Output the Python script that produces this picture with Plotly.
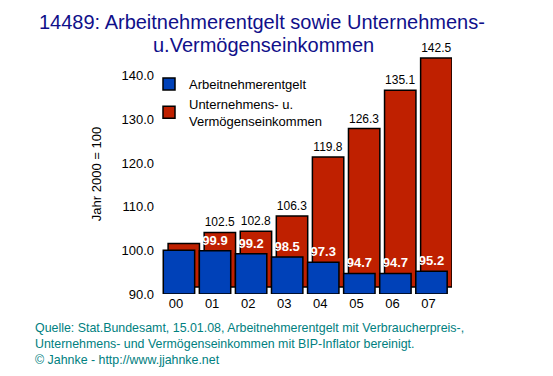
import plotly.graph_objects as go

years = ["00", "01", "02", "03", "04", "05", "06", "07"]
arbeit = [100.0, 99.9, 99.2, 98.5, 97.3, 94.7, 94.7, 95.2]
unternehmen = [100.0, 102.5, 102.8, 106.3, 119.8, 126.3, 135.1, 142.5]
arbeit_labels = ["", "99.9", "99.2", "98.5", "97.3", "94.7", "94.7", "95.2"]
unternehmen_labels = ["", "102.5", "102.8", "106.3", "119.8", "126.3", "135.1", "142.5"]
yticks = [90, 100, 110, 120, 130, 140]

BASE = 90.0
FONT = "Liberation Sans, Arial, sans-serif"

# page body has an 8px margin; layout is laid out 8px up/left to compensate
L, T, PW, PH = 150, 46, 294, 240
W, H = 553, 376

def px_x(fx):
    return (fx - L) / PW

def px_y(fy):
    return (T + PH - fy) / PH

fig = go.Figure()
fig.add_trace(go.Bar(
    x=years, y=[v - BASE for v in unternehmen], base=BASE,
    name="Unternehmens- u.<br>Vermögenseinkommen",
    marker=dict(color="#BF2000", line=dict(color="#000000", width=1.5)),
    width=0.87, offset=-0.22,
    text=unternehmen_labels, textposition="outside",
    textfont=dict(color="#000000", size=12, family=FONT),
    cliponaxis=False, yaxis="y",
))
fig.add_trace(go.Bar(
    x=years, y=[v - BASE for v in arbeit], base=BASE,
    name="Arbeitnehmerentgelt",
    marker=dict(color="#0041B8", line=dict(color="#000000", width=1.5)),
    width=0.87, offset=-0.354,
    text=arbeit_labels, textposition="outside",
    textfont=dict(color="#FFFFFF", size=13, family=FONT, weight="bold"),
    cliponaxis=False, yaxis="y2",
))

fig.update_layout(
    width=W, height=H,
    paper_bgcolor="white", plot_bgcolor="white",
    margin=dict(l=L, r=W - L - PW, t=T, b=H - T - PH),
    barmode="overlay",
    showlegend=True,
    xaxis=dict(showgrid=False, showline=False, ticks="", zeroline=False,
               tickfont=dict(family=FONT, size=13, color="#000000")),
    yaxis=dict(range=[88.4, 143.4], visible=False, fixedrange=True),
    yaxis2=dict(range=[90, 145], tickvals=yticks, tickformat=".1f",
                overlaying="y", side="left", anchor="x",
                showgrid=False, showline=False, zeroline=False, ticks="",
                ticklabelstandoff=3,
                tickfont=dict(family=FONT, size=13, color="#000000"),
                title=dict(text="Jahr 2000 = 100",
                           font=dict(family=FONT, size=13, color="#000000"),
                           standoff=16)),
    legend=dict(x=px_x(141), y=px_y(61), xanchor="left", yanchor="top",
                bgcolor="rgba(0,0,0,0)", traceorder="reversed",
                font=dict(family=FONT, size=13, color="#000000")),
    font=dict(family=FONT),
)

TITLE_COLOR = "#10108A"
fig.add_annotation(
    text="14489: Arbeitnehmerentgelt sowie Unternehmens-",
    xref="paper", yref="paper", x=px_x(254), y=px_y(14),
    xanchor="center", yanchor="middle", showarrow=False,
    font=dict(family=FONT, size=20, color=TITLE_COLOR),
)
fig.add_annotation(
    text="u.Vermögenseinkommen",
    xref="paper", yref="paper", x=px_x(255), y=px_y(37),
    xanchor="center", yanchor="middle", showarrow=False,
    font=dict(family=FONT, size=20, color=TITLE_COLOR),
)

fig.add_annotation(
    text="Quelle: Stat.Bundesamt, 15.01.08, Arbeitnehmerentgelt mit Verbraucherpreis-,<br>"
         "Unternehmens- und Vermögenseinkommen mit BIP-Inflator bereinigt.<br>"
         "© Jahnke - http://www.jjahnke.net",
    xref="paper", yref="paper", x=px_x(25), y=px_y(311),
    xanchor="left", yanchor="top", align="left", showarrow=False,
    font=dict(family=FONT, size=12.4, color="#008080"),
)

fig.write_html("out.html")
